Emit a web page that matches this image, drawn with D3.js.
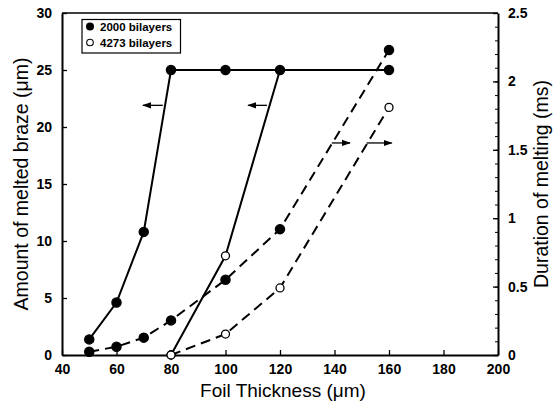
<!DOCTYPE html>
<html>
<head>
<meta charset="utf-8">
<script src="https://cdn.jsdelivr.net/npm/d3@7"></script>
<style>
  body { margin: 0; background: #fff; }
  svg text { font-family: Arial, "Liberation Sans", sans-serif; fill: #000; }
</style>
</head>
<body>
<svg id="chart" width="554" height="411"></svg>
<script>
// foil thickness (um)
const xTicks = [40, 60, 80, 100, 120, 140, 160, 180, 200];
const leftTicks = [0, 5, 10, 15, 20, 25, 30];
const rightTicks = [0, 0.5, 1, 1.5, 2, 2.5];

// amount of melted braze (left axis, solid lines)
const braze2000 = [[50, 1.37], [60, 4.6], [70, 10.8], [80, 25], [100, 25], [120, 25], [160, 25]];
const braze4273 = [[80, 0], [100, 8.7], [120, 25], [160, 25]];
const brazeMarks4273 = [[80, 0], [100, 8.7]];

// duration of melting (right axis, dashed lines)
const melt2000 = [[50, 0.024], [60, 0.06], [70, 0.127], [80, 0.253], [100, 0.55], [120, 0.92], [160, 2.23]];
const melt4273 = [[80, 0], [100, 0.153], [120, 0.49], [160, 1.81]];

// arrows: [x from, x to, value]
const leftArrows = [[77, 69.7, 21.9], [115.2, 108.3, 21.9]];
const rightArrows = [[139, 145.7, 1.55], [151.8, 161, 1.55]];

const svg = d3.select("#chart");
const L = 62, R = 498, T = 13, B = 355;

const x = d3.scaleLinear().domain([40, 200]).range([L, R]);
const yL = d3.scaleLinear().domain([0, 30]).range([B, T]);
const yR = d3.scaleLinear().domain([0, 2.5]).range([B, T]);

svg.append("defs").append("marker")
  .attr("id", "arr").attr("viewBox", "0 0 10 10").attr("refX", 9).attr("refY", 5)
  .attr("markerWidth", 7).attr("markerHeight", 7).attr("orient", "auto")
  .append("path").attr("d", "M0,1.5 L10,5 L0,8.5 Z").attr("fill", "#000");

/* AXES */
const gx = svg.append("g").attr("transform", `translate(0,${B})`)
  .call(d3.axisBottom(x).tickValues(xTicks).tickSize(-5).tickPadding(9).tickSizeOuter(0));
const gl = svg.append("g").attr("transform", `translate(${L},0)`)
  .call(d3.axisLeft(yL).tickValues(leftTicks).tickSize(-5).tickPadding(10).tickSizeOuter(0));
const gr = svg.append("g").attr("transform", `translate(${R},0)`)
  .call(d3.axisRight(yR).tickValues(rightTicks).tickSize(-5).tickPadding(10)
    .tickFormat(d3.format("")).tickSizeOuter(0));
svg.append("g").attr("transform", `translate(${R},0)`)
  .call(d3.axisRight(yR).tickValues(d3.range(0, 26).map(d => d / 10)).tickSize(-3).tickFormat("").tickSizeOuter(0))
  .select(".domain").remove();

[gx, gl, gr].forEach(g => {
  g.select(".domain").attr("stroke-width", 2);
  g.selectAll(".tick line").attr("stroke-width", 1.3);
  g.selectAll("text").attr("font-size", 14).attr("font-weight", "bold").attr("fill", "#000");
});
svg.append("line").attr("x1", L).attr("x2", R).attr("y1", T).attr("y2", T)
  .attr("stroke", "#000").attr("stroke-width", 1.5);

/* LINES */
const lineL = d3.line().x(d => x(d[0])).y(d => yL(d[1]));
const lineR = d3.line().x(d => x(d[0])).y(d => yR(d[1]));

[braze2000, braze4273].forEach(s =>
  svg.append("path").attr("d", lineL(s)).attr("fill", "none").attr("stroke", "#000").attr("stroke-width", 2));
[melt2000, melt4273].forEach(s =>
  svg.append("path").attr("d", lineR(s)).attr("fill", "none").attr("stroke", "#000")
    .attr("stroke-width", 2).attr("stroke-dasharray", "10,6"));

/* MARKERS */
function dots(data, scale, filled) {
  svg.selectAll(null).data(data).enter().append("circle")
    .attr("cx", d => x(d[0])).attr("cy", d => scale(d[1]))
    .attr("r", filled ? 4.6 : 4)
    .attr("fill", filled ? "#000" : "#fff")
    .attr("stroke", "#000").attr("stroke-width", 1.3);
}
dots(melt4273, yR, false);
dots(brazeMarks4273, yL, false);
dots(melt2000, yR, true);
dots(braze2000, yL, true);

/* ARROWS */
leftArrows.forEach(a =>
  svg.append("line").attr("x1", x(a[0])).attr("x2", x(a[1])).attr("y1", yL(a[2])).attr("y2", yL(a[2]))
    .attr("stroke", "#000").attr("stroke-width", 1.3).attr("marker-end", "url(#arr)"));
rightArrows.forEach(a =>
  svg.append("line").attr("x1", x(a[0])).attr("x2", x(a[1])).attr("y1", yR(a[2])).attr("y2", yR(a[2]))
    .attr("stroke", "#000").attr("stroke-width", 1.3).attr("marker-end", "url(#arr)"));

/* LEGEND */
const lg = svg.append("g");
lg.append("rect").attr("x", 82).attr("y", 19.5).attr("width", 98.5).attr("height", 33.5)
  .attr("fill", "#fff").attr("stroke", "#000").attr("stroke-width", 1.2);
lg.append("circle").attr("cx", 90).attr("cy", 26.5).attr("r", 4).attr("fill", "#000");
lg.append("circle").attr("cx", 90).attr("cy", 42.5).attr("r", 3.3).attr("fill", "#fff").attr("stroke", "#000").attr("stroke-width", 1.1);
lg.append("text").attr("x", 100).attr("y", 30.5).attr("font-size", 11.5).attr("font-weight", "bold").text("2000 bilayers");
lg.append("text").attr("x", 100).attr("y", 46.5).attr("font-size", 11.5).attr("font-weight", "bold").text("4273 bilayers");

/* TITLES */
svg.append("text").attr("x", (L + R) / 2 + 3).attr("y", 397).attr("text-anchor", "middle")
  .attr("font-size", 19).text("Foil Thickness (μm)");
svg.append("text").attr("transform", `translate(28,${(T + B) / 2}) rotate(-90)`).attr("text-anchor", "middle")
  .attr("font-size", 19.5).text("Amount of melted braze (μm)");
svg.append("text").attr("transform", `translate(548,${(T + B) / 2}) rotate(-90)`).attr("text-anchor", "middle")
  .attr("font-size", 19.5).text("Duration of melting (ms)");
</script>
</body>
</html>
